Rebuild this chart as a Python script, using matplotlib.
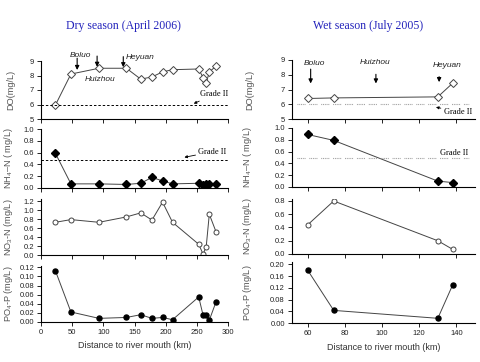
import numpy as np
import matplotlib
matplotlib.use("Agg")
import matplotlib.pyplot as plt
from matplotlib.ticker import FormatStrFormatter

# ---------------- data ----------------
dry_km = [23, 48, 93, 137, 160, 178, 195, 211, 253, 260, 265, 270, 281]
dry_do = [5.95, 8.1, 8.5, 8.5, 7.75, 7.9, 8.25, 8.4, 8.45, 7.85, 7.45, 8.25, 8.65]
dry_nh4 = [0.59, 0.07, 0.07, 0.06, 0.08, 0.18, 0.12, 0.07, 0.08, 0.05, 0.06, 0.07, 0.06]
dry_no3 = [0.73, 0.79, 0.73, 0.85, 0.94, 0.78, 1.18, 0.73, 0.24, 0.02, 0.18, 0.91, 0.51]
dry_po4 = [0.113, 0.022, 0.008, 0.010, 0.016, 0.008, 0.010, 0.005, 0.055, 0.015, 0.015, 0.004, 0.045]

wet_km = [60, 74, 130, 138]
wet_do = [6.39, 6.43, 6.5, 7.43]
wet_nh4 = [0.89, 0.79, 0.10, 0.075]
wet_no3 = [0.44, 0.80, 0.20, 0.07]
wet_po4 = [0.18, 0.043, 0.016, 0.13]

grade2_do = 6.0
grade2_nh4_dry = 0.47
grade2_nh4_wet = 0.5

ylabels = ["DO(mg/L)", "NH$_4$–N ( mg/L)", "NO$_3$-N (mg/L)", "PO$_4$-P (mg/L)"]

plt.rcParams['font.family'] = ['Liberation Sans', 'DejaVu Sans']
plt.rcParams['mathtext.fontset'] = 'custom'
plt.rcParams['mathtext.rm'] = 'Liberation Sans'
plt.rcParams['mathtext.it'] = 'Liberation Sans:italic'

fig = plt.figure(figsize=(4.8, 3.62), dpi=100)
W, H = 480.0, 362.0

def make_ax(x0, x1, ytop, ybot):
    return fig.add_axes([x0 / W, 1 - ybot / H, (x1 - x0) / W, (ybot - ytop) / H])

# pixel boxes (top, bottom) of each panel
left_rows = [(61, 119), (129, 188), (199, 255), (266, 322)]
right_rows = [(60, 119), (128, 187), (199, 254), (262, 323)]

axL = [make_ax(41, 228, t, b) for t, b in left_rows]
axR = [make_ax(291.7, 475, t, b) for t, b in right_rows]

tick_color = "#222222"
for ax in axL + axR:
    for s in ["top", "right"]:
        ax.spines[s].set_visible(False)
    for s in ["left", "bottom"]:
        ax.spines[s].set_linewidth(0.8)
    ax.tick_params(direction="out", length=3, width=0.7, labelsize=5.5,
                   colors=tick_color, pad=2)

lw = 0.7
ms = 3.6

# ---------------- dry season ----------------
ax = axL[0]
ax.plot(dry_km, dry_do, "-", color="#444444", lw=lw, marker="D", ms=ms,
        mfc="white", mec="#444444", mew=0.7)
ax.axhline(grade2_do, color="black", lw=0.7, ls=(0, (2.5, 2)))
ax.set_ylim(5, 9)
ax.set_yticks([5, 6, 7, 8, 9])

ax = axL[1]
ax.plot(dry_km, dry_nh4, "-", color="#444444", lw=lw, marker="D", ms=ms,
        mfc="black", mec="black")
ax.axhline(grade2_nh4_dry, color="black", lw=0.7, ls=(0, (2.5, 2)))
ax.set_ylim(0, 1.0)
ax.set_yticks(np.arange(0, 1.01, 0.2))
ax.yaxis.set_major_formatter(FormatStrFormatter("%.1f"))

ax = axL[2]
ax.plot(dry_km, dry_no3, "-", color="#444444", lw=lw, marker="o", ms=ms,
        mfc="white", mec="#444444", mew=0.7)
ax.set_ylim(0, 1.25)
ax.set_yticks(np.arange(0, 1.21, 0.2))
ax.yaxis.set_major_formatter(FormatStrFormatter("%.1f"))

ax = axL[3]
ax.plot(dry_km, dry_po4, "-", color="#444444", lw=lw, marker="o", ms=ms,
        mfc="black", mec="black")
ax.set_ylim(0, 0.123)
ax.set_yticks(np.arange(0, 0.121, 0.02))
ax.yaxis.set_major_formatter(FormatStrFormatter("%.2f"))

for ax in axL:
    ax.set_xlim(0, 300)
    ax.set_xticks(range(0, 301, 50))
for ax in axL[:3]:
    ax.tick_params(labelbottom=False)
axL[3].set_xlabel("Distance to river mouth (km)", fontsize=6.5, color="#333333")

# ---------------- wet season ----------------
dotted = (0, (0.8, 0.8, 0.8, 0.8, 0.8, 0.8, 0.8, 0.8, 0.8, 3.5))

ax = axR[0]
ax.plot(wet_km, wet_do, "-", color="#444444", lw=lw, marker="D", ms=ms,
        mfc="white", mec="#444444", mew=0.7)
ax.plot([54, 147], [grade2_do, grade2_do], color="#999999", lw=0.8, ls=dotted)
ax.set_ylim(5, 9)
ax.set_yticks([5, 6, 7, 8, 9])

ax = axR[1]
ax.plot(wet_km, wet_nh4, "-", color="#444444", lw=lw, marker="D", ms=ms,
        mfc="black", mec="black")
ax.plot([54, 147], [grade2_nh4_wet, grade2_nh4_wet], color="#999999", lw=0.8, ls=dotted)
ax.set_ylim(0, 1.0)
ax.set_yticks(np.arange(0, 1.01, 0.2))
ax.yaxis.set_major_formatter(FormatStrFormatter("%.1f"))

ax = axR[2]
ax.plot(wet_km, wet_no3, "-", color="#444444", lw=lw, marker="o", ms=ms,
        mfc="white", mec="#444444", mew=0.7)
ax.set_ylim(0, 0.83)
ax.set_yticks(np.arange(0, 0.81, 0.2))
ax.yaxis.set_major_formatter(FormatStrFormatter("%.1f"))

ax = axR[3]
ax.plot(wet_km, wet_po4, "-", color="#444444", lw=lw, marker="o", ms=ms,
        mfc="black", mec="black")
ax.set_ylim(0, 0.208)
ax.set_yticks(np.arange(0, 0.201, 0.04))
ax.yaxis.set_major_formatter(FormatStrFormatter("%.2f"))

for ax in axR:
    ax.set_xlim(51.4, 150)
    ax.set_xticks(range(60, 141, 20))
for ax in axR[:3]:
    ax.tick_params(labelbottom=False)
axR[3].set_xlabel("Distance to river mouth (km)", fontsize=6.5, color="#333333")

# y labels
for ax, lab in zip(axL, ylabels):
    ax.set_ylabel(lab, fontsize=6.6, color="#555555")
    ax.yaxis.set_label_coords(-0.14, 0.5)
for ax, lab in zip(axR, ylabels):
    ax.set_ylabel(lab, fontsize=6.6, color="#555555")
    ax.yaxis.set_label_coords(-0.205, 0.5)

# titles
fig.text(123 / W, 1 - 26 / H, "Dry season (April 2006)", ha="center", va="center",
         fontsize=8.5, color="#2222bb", family="Liberation Serif")
fig.text(368 / W, 1 - 26 / H, "Wet season (July 2005)", ha="center", va="center",
         fontsize=8.5, color="#2222bb", family="Liberation Serif")

# ---------------- annotations ----------------
arr = dict(arrowstyle="-|>", color="black", lw=0.8, mutation_scale=6,
           shrinkA=0, shrinkB=0)
it = dict(fontsize=6, style="italic", ha="center", va="center", color="#222222")
serif = dict(fontsize=6, family="Liberation Serif", ha="center", va="center")

ax = axL[0]
ax.annotate("", xy=(58, 8.38), xytext=(58, 9.19), arrowprops=arr, annotation_clip=False)
ax.annotate("", xy=(90, 8.6), xytext=(90, 9.34), arrowprops=arr, annotation_clip=False)
ax.annotate("", xy=(132, 8.57), xytext=(132, 9.3), arrowprops=arr, annotation_clip=False)
ax.text(63, 9.4, "Boluo", clip_on=False, **it)
ax.text(95, 7.69, "Huizhou", clip_on=False, **it)
ax.text(159, 9.25, "Heyuan", clip_on=False, **it)
ax.annotate("Grade II", xy=(245, 6.06), xytext=(278, 6.7), textcoords="data",
            arrowprops=dict(arrowstyle="-|>", color="black", lw=0.6, mutation_scale=4,
                            shrinkB=0, shrinkA=6),
            **serif)

ax = axL[1]
ax.annotate("Grade II", xy=(230, 0.52), xytext=(275, 0.615),
            arrowprops=dict(arrowstyle="-|>", color="black", lw=0.6, mutation_scale=4,
                            shrinkB=0, shrinkA=13),
            **serif)

ax = axR[0]
ax.annotate("", xy=(61.6, 7.41), xytext=(61.6, 8.38), arrowprops=arr, annotation_clip=False)
ax.annotate("", xy=(96.7, 7.41), xytext=(96.7, 8.03), arrowprops=arr, annotation_clip=False)
ax.annotate("", xy=(130.7, 7.5), xytext=(130.7, 7.87), arrowprops=arr, annotation_clip=False)
ax.text(63.4, 8.79, "Boluo", **it)
ax.text(96, 8.84, "Huizhou", **it)
ax.text(135, 8.6, "Heyuan", **it)
ax.annotate("Grade II", xy=(129, 5.8), xytext=(140.7, 5.5),
            arrowprops=dict(arrowstyle="-|>", color="black", lw=0.6, mutation_scale=4,
                            shrinkB=0, shrinkA=10),
            annotation_clip=False, **serif)

axR[1].text(139, 0.58, "Grade II", **serif)

fig.savefig("out.png", dpi=100)
